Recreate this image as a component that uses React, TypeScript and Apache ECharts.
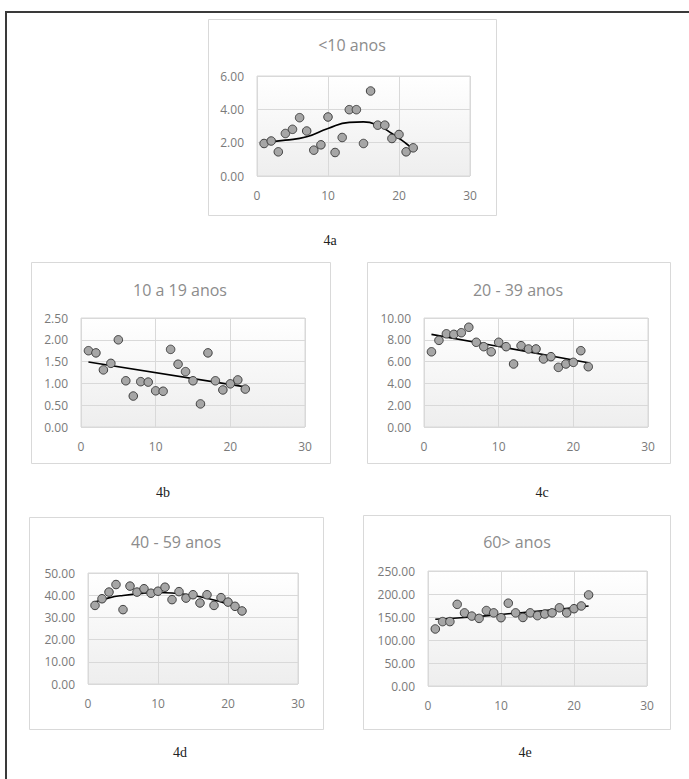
import React, { useEffect, useRef } from "react";
import * as echarts from "echarts";

// ---- data ----
const xs = [1, 2, 3, 4, 5, 6, 7, 8, 9, 10, 11, 12, 13, 14, 15, 16, 17, 18, 19, 20, 21, 22];
const under10 = [1.95, 2.1, 1.45, 2.55, 2.8, 3.5, 2.7, 1.55, 1.87, 3.54, 1.41, 2.31, 3.98, 3.98, 1.95, 5.1, 3.05, 3.05, 2.25, 2.49, 1.45, 1.69];
const age10to19 = [1.75, 1.7, 1.31, 1.46, 2.0, 1.06, 0.71, 1.04, 1.03, 0.83, 0.82, 1.78, 1.44, 1.27, 1.06, 0.53, 1.7, 1.06, 0.85, 0.99, 1.08, 0.87];
const age20to39 = [6.9, 7.95, 8.55, 8.5, 8.65, 9.15, 7.77, 7.37, 6.9, 7.77, 7.37, 5.78, 7.46, 7.16, 7.16, 6.24, 6.45, 5.47, 5.78, 5.93, 7.0, 5.53];
const age40to59 = [35.4, 38.4, 41.4, 44.8, 33.5, 44.1, 41.4, 42.9, 40.9, 41.8, 43.6, 38.0, 41.6, 38.7, 40.2, 36.5, 40.2, 35.4, 38.9, 36.9, 35.0, 32.9];
const age60plus = [124, 140, 140, 177.5, 159, 152, 147, 164, 159, 148.5, 180, 159, 149, 159, 153, 156.5, 159, 170, 159, 168, 174, 198];

// trendlines
const trendUnder10 = [[1, 2.03], [4, 2.15], [7, 2.35], [10, 2.85], [13, 3.22], [15, 3.25], [17, 3.05], [19, 2.55], [21, 1.95], [22, 1.6]];
const trend10to19 = [[1, 1.49], [22, 0.92]];
const trend20to39 = [[1, 8.5], [22, 5.9]];
const trend40to59 = [[1, 36.9], [3, 38.8], [5, 39.9], [8, 40.9], [10, 41.2], [12, 41.0], [15, 39.9], [18, 37.8], [20, 35.9], [22, 33.6]];
const trend60plus = [[1, 145], [6, 150], [11, 157], [16, 164], [22, 174]];

const titles = ["<10 anos", "10 a 19 anos", "20 - 39 anos", "40 - 59 anos", "60> anos"];
const captions = ["4a", "4b", "4c", "4d", "4e"];
const yMax = [6, 2.5, 10, 50, 250];
const yStep = [2, 0.5, 2, 10, 50];
const xMax = 30;
const xStep = 10;

const seriesValues = [under10, age10to19, age20to39, age40to59, age60plus];
const trends = [trendUnder10, trend10to19, trend20to39, trend40to59, trend60plus];

// ---- layout ----
const grids = [
  { left: 257, top: 76, width: 213, height: 100 },
  { left: 81, top: 318, width: 224, height: 109 },
  { left: 424, top: 318, width: 224, height: 109 },
  { left: 88, top: 573, width: 210, height: 111 },
  { left: 428, top: 571, width: 219, height: 115 },
];
const boxes = [
  { x: 208, y: 19, w: 288, h: 196 },
  { x: 31, y: 262, w: 299, h: 201 },
  { x: 367, y: 262, w: 303, h: 201 },
  { x: 29, y: 517, w: 294, h: 212 },
  { x: 363, y: 515, w: 307, h: 214 },
];
const titlePos = [
  [352, 45],
  [180, 290],
  [518, 290],
  [176, 542],
  [517, 542],
];
const captionPos = [
  [330, 240],
  [163, 492],
  [542, 492],
  [180, 752],
  [525, 752],
];

export default function App() {
  const ref = useRef<HTMLDivElement>(null);
  useEffect(() => {
    if (!ref.current) return;
    const chart = echarts.init(ref.current, undefined, { renderer: "svg" });
    const font = "'Open Sans', 'Noto Sans', sans-serif";
    const bg = new echarts.graphic.LinearGradient(0, 0, 0, 1, [
      { offset: 0, color: "#ffffff" },
      { offset: 1, color: "#eeeeee" },
    ]);

    const graphic: any[] = [];
    boxes.forEach((b) => {
      graphic.push({
        type: "rect",
        shape: { x: b.x + 0.5, y: b.y + 0.5, width: b.w, height: b.h },
        style: { fill: "#ffffff", stroke: "#d9d9d9", lineWidth: 1 },
        z: -10,
        silent: true,
      });
    });
    titles.forEach((t, i) => {
      graphic.push({
        type: "text",
        x: titlePos[i][0],
        y: titlePos[i][1],
        style: {
          text: t,
          fontFamily: font,
          fontSize: 16,
          fill: "#8c8c8c",
          align: "center",
          verticalAlign: "middle",
          textAlign: "center",
          textVerticalAlign: "middle",
        },
        z: 10,
      });
    });
    captions.forEach((t, i) => {
      graphic.push({
        type: "text",
        x: captionPos[i][0],
        y: captionPos[i][1],
        style: {
          text: t,
          fontFamily: "'Liberation Serif', 'DejaVu Serif', serif",
          fontSize: 14,
          fill: "#222222",
          align: "center",
          verticalAlign: "middle",
          textAlign: "center",
          textVerticalAlign: "middle",
        },
        z: 10,
      });
    });
    // outer frame
    graphic.push({
      type: "line",
      shape: { x1: 5, y1: 12, x2: 689, y2: 12 },
      style: { stroke: "#3a3a3a", lineWidth: 2 },
      z: 10,
    });
    graphic.push({
      type: "line",
      shape: { x1: 6, y1: 11, x2: 6, y2: 779 },
      style: { stroke: "#3a3a3a", lineWidth: 2 },
      z: 10,
    });

    const gridOpt = grids.map((g) => ({
      left: g.left,
      top: g.top,
      width: g.width,
      height: g.height,
      show: true,
      backgroundColor: bg,
      borderColor: "#d9d9d9",
      borderWidth: 1,
      containLabel: false,
    }));

    const axisLabelStyle = { color: "#7a7a7a", fontSize: 12, fontFamily: font };

    const xAxis = grids.map((_, i) => ({
      type: "value",
      gridIndex: i,
      min: 0,
      max: xMax,
      interval: xStep,
      axisLine: { show: false },
      axisTick: { show: false },
      splitLine: { show: true, lineStyle: { color: "#d9d9d9", width: 1 } },
      axisLabel: { ...axisLabelStyle, margin: 13 },
    }));
    const yAxis = grids.map((_, i) => ({
      type: "value",
      gridIndex: i,
      min: 0,
      max: yMax[i],
      interval: yStep[i],
      axisLine: { show: false },
      axisTick: { show: false },
      splitLine: { show: true, lineStyle: { color: "#d9d9d9", width: 1 } },
      axisLabel: {
        ...axisLabelStyle,
        margin: 13,
        formatter: (v: number) => v.toFixed(2),
      },
    }));

    const series: any[] = [];
    seriesValues.forEach((vals, i) => {
      series.push({
        type: "line",
        xAxisIndex: i,
        yAxisIndex: i,
        data: trends[i],
        smooth: trends[i].length > 2 ? 0.5 : false,
        symbol: "none",
        lineStyle: { color: "#000000", width: 1.6 },
        z: 3,
        silent: true,
      });
      series.push({
        type: "scatter",
        xAxisIndex: i,
        yAxisIndex: i,
        data: xs.map((x, k) => [x, vals[k]]),
        symbol: "circle",
        symbolSize: 8.5,
        itemStyle: { color: "#a6a6a6", borderColor: "#3f3f3f", borderWidth: 1, opacity: 1 },
        z: 4,
      });
    });

    chart.setOption({
      animation: false,
      backgroundColor: "#ffffff",
      grid: gridOpt,
      xAxis,
      yAxis,
      series,
      graphic,
    });
    return () => chart.dispose();
  }, []);
  return (
    <div
      ref={ref}
      style={{ position: "absolute", left: 0, top: 0, width: 689, height: 779 }}
    />
  );
}
